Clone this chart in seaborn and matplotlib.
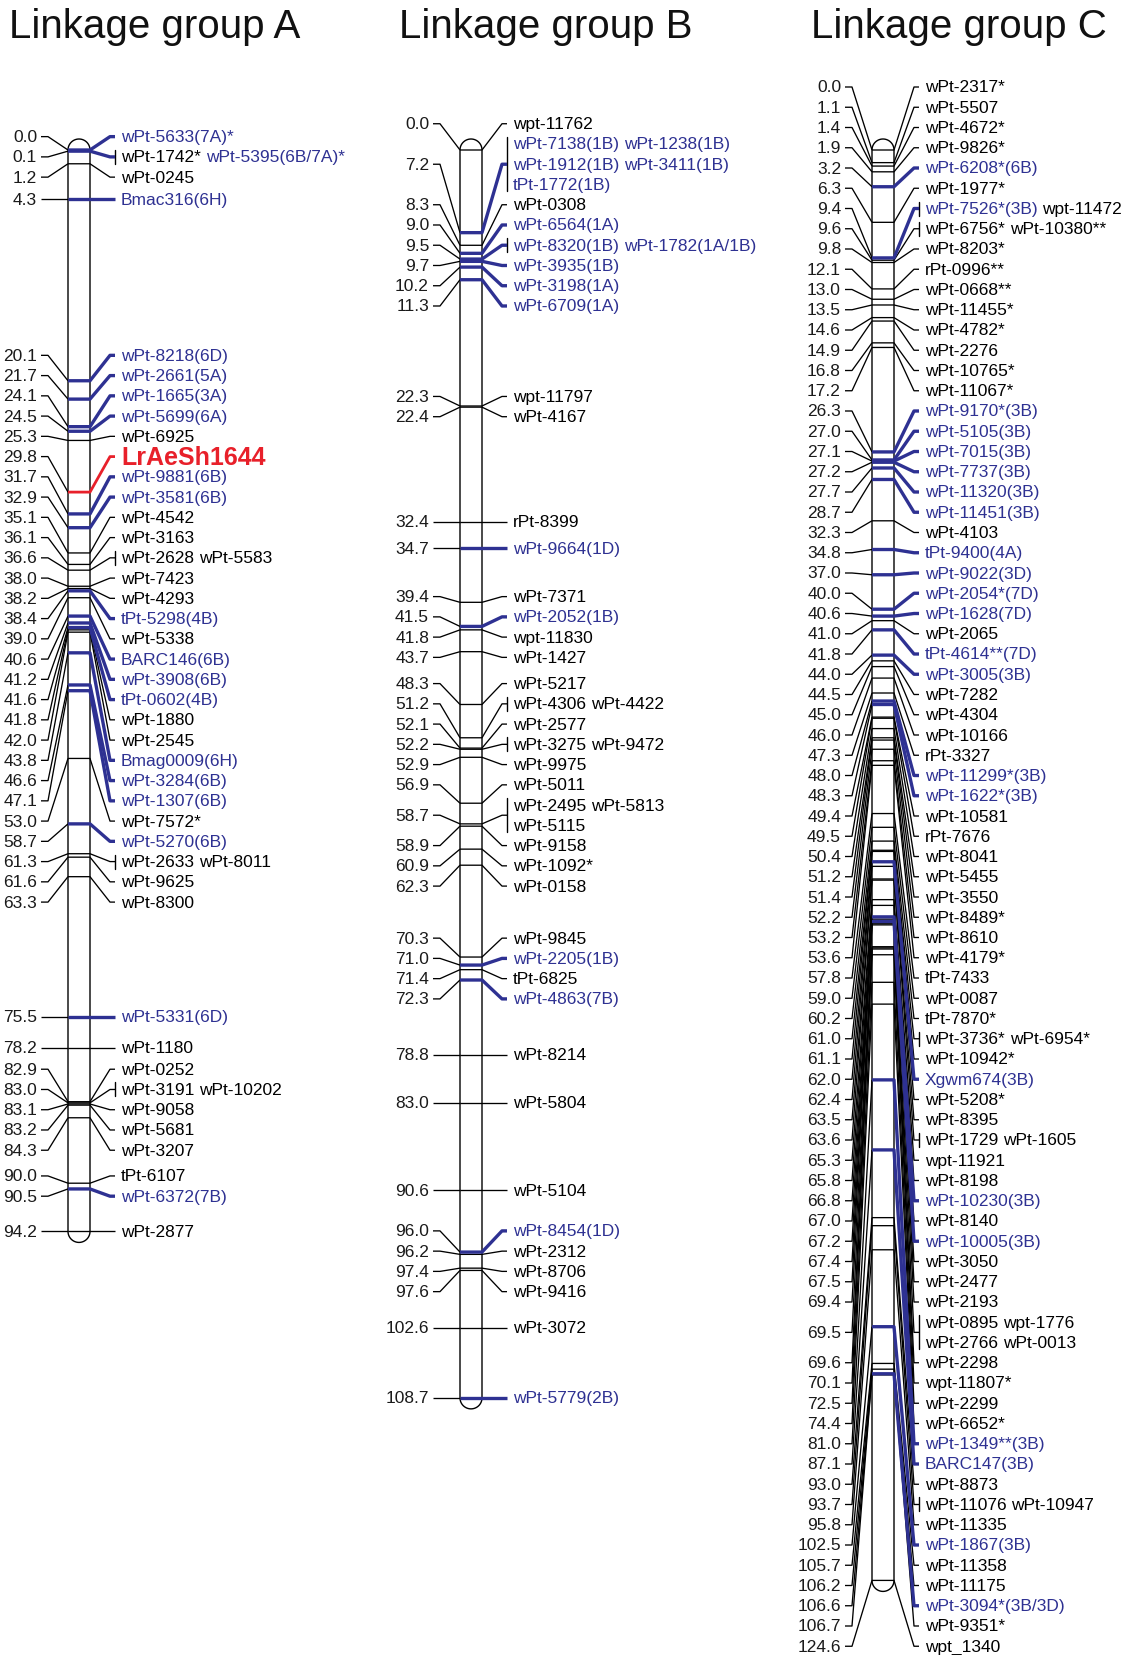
import numpy as np
import matplotlib
matplotlib.use("Agg")
import matplotlib.pyplot as plt
import seaborn as sns
from matplotlib.patches import Polygon

# ---- map data: locus position (cM) and the markers mapped at that locus ----
group_a_cm = [0.0, 0.1, 1.2, 4.3, 20.1, 21.7, 24.1, 24.5, 25.3, 29.8, 31.7, 32.9, 35.1, 36.1,
              36.6, 38.0, 38.2, 38.4, 39.0, 40.6, 41.2, 41.6, 41.8, 42.0, 43.8, 46.6, 47.1,
              53.0, 58.7, 61.3, 61.6, 63.3, 75.5, 78.2, 82.9, 83.0, 83.1, 83.2, 84.3, 90.0,
              90.5, 94.2]
group_a_markers = [
    ["wPt-5633(7A)*"], ["wPt-1742*", "wPt-5395(6B/7A)*"], ["wPt-0245"], ["Bmac316(6H)"],
    ["wPt-8218(6D)"], ["wPt-2661(5A)"], ["wPt-1665(3A)"], ["wPt-5699(6A)"], ["wPt-6925"],
    ["LrAeSh1644"], ["wPt-9881(6B)"], ["wPt-3581(6B)"], ["wPt-4542"], ["wPt-3163"],
    ["wPt-2628", "wPt-5583"], ["wPt-7423"], ["wPt-4293"], ["tPt-5298(4B)"], ["wPt-5338"],
    ["BARC146(6B)"], ["wPt-3908(6B)"], ["tPt-0602(4B)"], ["wPt-1880"], ["wPt-2545"],
    ["Bmag0009(6H)"], ["wPt-3284(6B)"], ["wPt-1307(6B)"],
    ["wPt-7572*"], ["wPt-5270(6B)"], ["wPt-2633", "wPt-8011"], ["wPt-9625"], ["wPt-8300"],
    ["wPt-5331(6D)"], ["wPt-1180"], ["wPt-0252"], ["wPt-3191", "wPt-10202"], ["wPt-9058"],
    ["wPt-5681"], ["wPt-3207"], ["tPt-6107"], ["wPt-6372(7B)"], ["wPt-2877"],
]

group_b_cm = [0.0, 7.2, 8.3, 9.0, 9.5, 9.7, 10.2, 11.3, 22.3, 22.4, 32.4, 34.7, 39.4, 41.5,
              41.8, 43.7, 48.3, 51.2, 52.1, 52.2, 52.9, 56.9, 58.7, 58.9, 60.9, 62.3, 70.3,
              71.0, 71.4, 72.3, 78.8, 83.0, 90.6, 96.0, 96.2, 97.4, 97.6, 102.6, 108.7]
group_b_markers = [
    ["wpt-11762"],
    ["wPt-7138(1B)", "wPt-1238(1B)", "wPt-1912(1B)", "wPt-3411(1B)", "tPt-1772(1B)"],
    ["wPt-0308"], ["wPt-6564(1A)"], ["wPt-8320(1B)", "wPt-1782(1A/1B)"], ["wPt-3935(1B)"],
    ["wPt-3198(1A)"], ["wPt-6709(1A)"], ["wpt-11797"], ["wPt-4167"], ["rPt-8399"],
    ["wPt-9664(1D)"], ["wPt-7371"], ["wPt-2052(1B)"], ["wpt-11830"], ["wPt-1427"],
    ["wPt-5217"], ["wPt-4306", "wPt-4422"], ["wPt-2577"], ["wPt-3275", "wPt-9472"],
    ["wPt-9975"], ["wPt-5011"], ["wPt-2495", "wPt-5813", "wPt-5115"], ["wPt-9158"],
    ["wPt-1092*"], ["wPt-0158"], ["wPt-9845"], ["wPt-2205(1B)"], ["tPt-6825"],
    ["wPt-4863(7B)"], ["wPt-8214"], ["wPt-5804"], ["wPt-5104"], ["wPt-8454(1D)"],
    ["wPt-2312"], ["wPt-8706"], ["wPt-9416"], ["wPt-3072"], ["wPt-5779(2B)"],
]

group_c_cm = [0.0, 1.1, 1.4, 1.9, 3.2, 6.3, 9.4, 9.6, 9.8, 12.1, 13.0, 13.5, 14.6, 14.9,
              16.8, 17.2, 26.3, 27.0, 27.1, 27.2, 27.7, 28.7, 32.3, 34.8, 37.0, 40.0, 40.6,
              41.0, 41.8, 44.0, 44.5, 45.0, 46.0, 47.3, 48.0, 48.3, 49.4, 49.5, 50.4, 51.2,
              51.4, 52.2, 53.2, 53.6, 57.8, 59.0, 60.2, 61.0, 61.1, 62.0, 62.4, 63.5, 63.6,
              65.3, 65.8, 66.8, 67.0, 67.2, 67.4, 67.5, 69.4, 69.5, 69.6, 70.1, 72.5, 74.4,
              81.0, 87.1, 93.0, 93.7, 95.8, 102.5, 105.7, 106.2, 106.6, 106.7, 124.6]
group_c_markers = [
    ["wPt-2317*"], ["wPt-5507"], ["wPt-4672*"], ["wPt-9826*"], ["wPt-6208*(6B)"],
    ["wPt-1977*"], ["wPt-7526*(3B)", "wpt-11472"], ["wPt-6756*", "wPt-10380**"],
    ["wPt-8203*"], ["rPt-0996**"], ["wPt-0668**"], ["wPt-11455*"], ["wPt-4782*"],
    ["wPt-2276"], ["wPt-10765*"], ["wPt-11067*"], ["wPt-9170*(3B)"], ["wPt-5105(3B)"],
    ["wPt-7015(3B)"], ["wPt-7737(3B)"], ["wPt-11320(3B)"], ["wPt-11451(3B)"], ["wPt-4103"],
    ["tPt-9400(4A)"], ["wPt-9022(3D)"], ["wPt-2054*(7D)"], ["wPt-1628(7D)"], ["wPt-2065"],
    ["tPt-4614**(7D)"], ["wPt-3005(3B)"], ["wPt-7282"], ["wPt-4304"], ["wPt-10166"],
    ["rPt-3327"], ["wPt-11299*(3B)"], ["wPt-1622*(3B)"], ["wPt-10581"], ["rPt-7676"],
    ["wPt-8041"], ["wPt-5455"], ["wPt-3550"], ["wPt-8489*"], ["wPt-8610"], ["wPt-4179*"],
    ["tPt-7433"], ["wPt-0087"], ["tPt-7870*"], ["wPt-3736*", "wPt-6954*"], ["wPt-10942*"],
    ["Xgwm674(3B)"], ["wPt-5208*"], ["wPt-8395"], ["wPt-1729", "wPt-1605"], ["wpt-11921"],
    ["wPt-8198"], ["wPt-10230(3B)"], ["wPt-8140"], ["wPt-10005(3B)"], ["wPt-3050"],
    ["wPt-2477"], ["wPt-2193"], ["wPt-0895", "wpt-1776", "wPt-2766", "wPt-0013"],
    ["wPt-2298"], ["wpt-11807*"], ["wPt-2299"], ["wPt-6652*"], ["wPt-1349**(3B)"],
    ["BARC147(3B)"], ["wPt-8873"], ["wPt-11076", "wPt-10947"], ["wPt-11335"],
    ["wPt-1867(3B)"], ["wPt-11358"], ["wPt-11175"], ["wPt-3094*(3B/3D)"], ["wPt-9351*"],
    ["wpt_1340"],
]

group_titles = ["Linkage group A", "Linkage group B", "Linkage group C"]
trait_genes = ["LrAeSh1644"]

# ---- layout / style ----
BLUE = "#2E3192"
RED = "#E8202A"
FIG_W, FIG_H = 1130, 1656
PX_PER_CM = 11.48      # vertical map scale
ZERO_PX = 151          # pixel row of 0 cM
LINE_PX = 20.25        # label line spacing
LABEL_TOP_PX = 88      # highest allowed label line
BAR_W = 22
FONT = 12.5
SPACE_PX = 4.8
PER_LINE = 2           # markers per label line

sns.set_theme(style="white")
plt.rcParams["font.family"] = ["Liberation Sans", "DejaVu Sans"]

fig = plt.figure(figsize=(FIG_W / 100, FIG_H / 100), dpi=100)
ax = fig.add_axes([0, 0, 1, 1])
ax.set_xlim(0, FIG_W)
ax.set_ylim((FIG_H - ZERO_PX) / PX_PER_CM, -ZERO_PX / PX_PER_CM)
ax.axis("off")
renderer = fig.canvas.get_renderer()


def marker_color(name):
    if name in trait_genes:
        return RED
    if "(" in name:
        return BLUE
    return "black"


def locus_color(names):
    cols = [marker_color(n) for n in names]
    if RED in cols:
        return RED
    if BLUE in cols:
        return BLUE
    return "black"


def layout_labels(pos, nlines):
    # labels are chained top-down, each chain is centred between its outer label
    # lines, then chains are split wherever the pieces no longer collide
    s = LINE_PX / PX_PER_CM
    top_lim = (LABEL_TOP_PX - ZERO_PX) / PX_PER_CM - s / 2
    hgt = [n * s for n in nlines]

    def place(cl):
        h = np.array([hgt[i] for i in cl])
        first = pos[cl[0]] - (nlines[cl[0]] - 1) * s / 2
        last = pos[cl[-1]] + (nlines[cl[-1]] - 1) * s / 2
        top = max((first + last) / 2 - h.sum() / 2, top_lim)
        return top, top + h.sum(), top + np.cumsum(h) - h / 2

    chains, bottom = [], -np.inf
    for i in range(len(pos)):
        top = max(pos[i] - hgt[i] / 2, top_lim)
        if chains and top < bottom - 1e-9:
            chains[-1].append(i)
            top = bottom
        else:
            chains.append([i])
        bottom = top + hgt[i]

    def split(cl):
        best = None
        for j in range(1, len(cl)):
            gap = place(cl[j:])[0] - place(cl[:j])[1]
            if gap > 0 and (best is None or gap > best[0]):
                best = (gap, j)
        if best is None:
            return [cl]
        return split(cl[:best[1]]) + split(cl[best[1]:])

    clusters = [c for ch in chains for c in split(ch)]
    changed = True
    while changed:
        changed = False
        for k in range(len(clusters) - 1):
            if place(clusters[k])[1] > place(clusters[k + 1])[0] + 1e-9:
                clusters[k] = clusters[k] + clusters.pop(k + 1)
                changed = True
                break
    out = np.zeros(len(pos))
    for cl in clusters:
        out[cl] = place(cl)[2]
    return out


def bar_outline(x0, length):
    r = BAR_W / 2
    ry = r / PX_PER_CM
    t = np.linspace(0, np.pi, 40)
    xc = x0 + r
    top = np.column_stack([xc - r * np.cos(t), -ry * np.sin(t)])
    bot = np.column_stack([xc + r * np.cos(t), length + ry * np.sin(t)])
    return np.vstack([top, bot])


def draw_group(bar_l, cm, markers):
    bar_r = bar_l + BAR_W
    s = LINE_PX / PX_PER_CM
    nlines = [int(np.ceil(len(m) / PER_LINE)) for m in markers]
    ylab = layout_labels(cm, nlines)

    ax.add_patch(Polygon(bar_outline(bar_l, max(cm)), closed=True, facecolor="white",
                         edgecolor="black", lw=1.0, zorder=1))

    order = sorted(range(len(cm)), key=lambda i: locus_color(markers[i]) != "black")
    for i in order:
        y, yl, names = cm[i], ylab[i], markers[i]
        col = locus_color(names)
        lw = {"black": 0.95, BLUE: 2.4, RED: 2.0}[col]
        z = 2 if col == "black" else 3
        # left connector (always thin black) and cM value
        ax.plot([bar_l - 27, bar_l - 20, bar_l], [yl, yl, y], color="black", lw=0.95,
                solid_capstyle="butt", zorder=2)
        ax.text(bar_l - 31, yl, f"{y:.1f}", ha="right", va="center", fontsize=FONT,
                color="#1a1a1a")
        # tick across the bar + right connector
        ax.plot([bar_l, bar_r, bar_r + 20, bar_r + 25], [y, y, yl, yl], color=col, lw=lw,
                solid_capstyle="butt", zorder=z)
        if len(names) > 1:
            half = (nlines[i] - 1) * s / 2 + 7 / PX_PER_CM
            ax.plot([bar_r + 25, bar_r + 25], [yl - half, yl + half], color="black",
                    lw=1.0, zorder=2)
        # marker names, two per line
        for k in range(nlines[i]):
            yy = yl - (nlines[i] - 1) * s / 2 + k * s
            x = bar_r + 31
            for name in names[k * PER_LINE:(k + 1) * PER_LINE]:
                trait = name in trait_genes
                t = ax.text(x, yy, name, ha="left", va="center", color=marker_color(name),
                            fontsize=18 if trait else FONT,
                            fontweight="bold" if trait else "normal")
                x += t.get_window_extent(renderer).width + SPACE_PX


draw_group(68, group_a_cm, group_a_markers)
draw_group(460, group_b_cm, group_b_markers)
draw_group(872, group_c_cm, group_c_markers)

for title, x in zip(group_titles, [9, 399, 811]):
    fig.text(x / FIG_W, 1 - 38 / FIG_H, title, fontsize=29, va="baseline", ha="left",
             color="#111111")

fig.savefig("out.png", dpi=100)
